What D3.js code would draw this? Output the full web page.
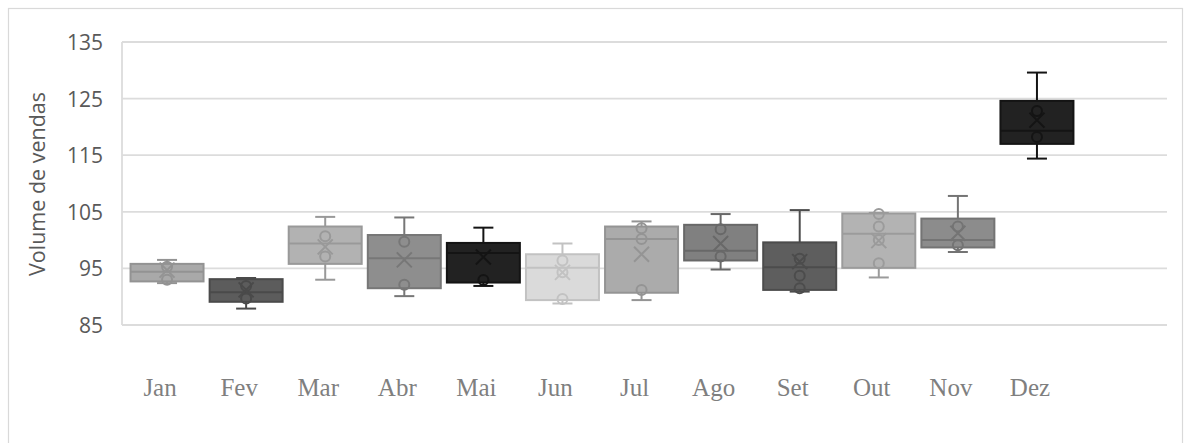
<!DOCTYPE html>
<html>
<head>
<meta charset="utf-8">
<script src="https://cdn.jsdelivr.net/npm/d3@7"></script>
<style>
  html, body { margin: 0; padding: 0; background: #fff; }
  svg { display: block; }
</style>
</head>
<body>
<svg id="chart" width="1184" height="443"></svg>
<script>
// Monthly sales volume distributions (box & whisker summaries)
const months = ["Jan", "Fev", "Mar", "Abr", "Mai", "Jun", "Jul", "Ago", "Set", "Out", "Nov", "Dez"];
const whiskerLow  = [92.4, 87.9, 93.0, 90.1, 91.9, 88.8, 89.4, 94.8, 90.9, 93.4, 97.9, 114.4];
const q1          = [92.7, 89.1, 95.8, 91.5, 92.5, 89.4, 90.7, 96.4, 91.2, 95.1, 98.7, 117.0];
const median      = [94.4, 90.8, 99.4, 96.8, 97.7, 95.1, 100.2, 98.1, 95.2, 101.1, 100.0, 119.3];
const q3          = [95.8, 93.1, 102.4, 100.9, 99.5, 97.5, 102.4, 102.7, 99.6, 104.7, 103.8, 124.6];
const whiskerHigh = [96.5, 93.3, 104.1, 104.0, 102.2, 99.4, 103.3, 104.6, 105.3, 104.8, 107.8, 129.6];
const means       = [94.7, 91.2, 98.8, 96.5, 97.0, 94.3, 97.5, 99.4, 96.2, 99.9, 101.2, 121.2];
const innerPoints = [
  [95.3, 93.0],
  [91.9, 89.7],
  [100.7, 97.1],
  [99.7, 92.1],
  [92.95],
  [96.4, 94.3, 89.6],
  [102.1, 100.2, 91.2],
  [101.9, 97.1],
  [96.7, 93.7, 91.5],
  [104.6, 102.4, 100.0, 95.9],
  [102.4, 99.1],
  [122.8, 118.2]
];
const yTicks = [85, 95, 105, 115, 125, 135];

// Grey shade of each month's box (fill, outline)
const fills   = ["#a9a9a9", "#5c5c5c", "#b2b2b2", "#8e8e8e", "#222222", "#dadada", "#ababab", "#808080", "#5e5e5e", "#b3b3b3", "#8c8c8c", "#222222"];
const strokes = ["#939393", "#4a4a4a", "#999999", "#777777", "#141414", "#c2c2c2", "#949494", "#686868", "#4c4c4c", "#9b9b9b", "#747474", "#141414"];

const svg = d3.select("#chart");

// outer frame
svg.append("rect")
  .attr("x", 8.5).attr("y", 8.5)
  .attr("width", 1174).attr("height", 450)
  .attr("fill", "none").attr("stroke", "#d9d9d9").attr("stroke-width", 1.2);

const plotLeft = 122, plotRight = 1167;
const y = d3.scaleLinear().domain([85, 135]).range([325, 42]);
const x = d3.scaleBand().domain(months)
  .range([127.5, 1076.5]).paddingInner(0.077).paddingOuter(0.0385);

// horizontal gridlines
svg.append("g").selectAll("line").data(yTicks).join("line")
  .attr("x1", plotLeft).attr("x2", plotRight)
  .attr("y1", d => y(d)).attr("y2", d => y(d))
  .attr("stroke", "#dcdcdc").attr("stroke-width", 1.8);

// left axis line
svg.append("line")
  .attr("x1", plotLeft).attr("x2", plotLeft)
  .attr("y1", y(135)).attr("y2", y(85))
  .attr("stroke", "#dcdcdc").attr("stroke-width", 1.8);

// y tick labels
svg.append("g").selectAll("text").data(yTicks).join("text")
  .attr("x", 103).attr("y", d => y(d))
  .attr("text-anchor", "end").attr("dominant-baseline", "central")
  .attr("font-family", "'Open Sans', sans-serif").attr("font-size", 21)
  .attr("fill", "#595959")
  .text(d => d);

// y axis title
svg.append("text")
  .attr("transform", "translate(45,184) rotate(-90)")
  .attr("text-anchor", "middle")
  .attr("font-family", "'Open Sans', sans-serif").attr("font-size", 21.5)
  .attr("fill", "#595959")
  .text("Volume de vendas");

// month labels
svg.append("g").selectAll("text").data(months).join("text")
  .attr("x", d => x(d) + x.bandwidth() / 2 - 7)
  .attr("y", 396)
  .attr("text-anchor", "middle")
  .attr("font-family", "'Liberation Serif', 'Times New Roman', serif").attr("font-size", 25)
  .attr("fill", "#7f7f7f")
  .text(d => d);

// boxes
const capHalf = 10, markHalf = 7.5, sw = 2;
const boxes = svg.append("g").selectAll("g").data(months).join("g")
  .attr("transform", d => `translate(${x(d)},0)`);

boxes.each(function(m, i) {
  const g = d3.select(this);
  const w = x.bandwidth(), cx = w / 2;
  const col = strokes[i];
  // whiskers
  g.append("line").attr("x1", cx).attr("x2", cx)
    .attr("y1", y(whiskerHigh[i])).attr("y2", y(q3[i]))
    .attr("stroke", col).attr("stroke-width", sw);
  g.append("line").attr("x1", cx).attr("x2", cx)
    .attr("y1", y(q1[i])).attr("y2", y(whiskerLow[i]))
    .attr("stroke", col).attr("stroke-width", sw);
  [whiskerHigh[i], whiskerLow[i]].forEach(v => {
    g.append("line").attr("x1", cx - capHalf).attr("x2", cx + capHalf)
      .attr("y1", y(v)).attr("y2", y(v))
      .attr("stroke", col).attr("stroke-width", sw);
  });
  // interquartile box
  g.append("rect")
    .attr("x", 0).attr("width", w)
    .attr("y", y(q3[i])).attr("height", y(q1[i]) - y(q3[i]))
    .attr("fill", fills[i]).attr("stroke", col).attr("stroke-width", sw);
  // median
  g.append("line").attr("x1", 0).attr("x2", w)
    .attr("y1", y(median[i])).attr("y2", y(median[i]))
    .attr("stroke", col).attr("stroke-width", sw);
  // inner points
  g.selectAll("circle").data(innerPoints[i]).join("circle")
    .attr("cx", cx).attr("cy", v => y(v)).attr("r", 5)
    .attr("fill", "none").attr("stroke", col).attr("stroke-width", sw);
  // mean marker
  const my = y(means[i]);
  g.append("path")
    .attr("d", `M${cx - markHalf},${my - markHalf}L${cx + markHalf},${my + markHalf}M${cx - markHalf},${my + markHalf}L${cx + markHalf},${my - markHalf}`)
    .attr("stroke", col).attr("stroke-width", sw).attr("fill", "none");
});
</script>
</body>
</html>
